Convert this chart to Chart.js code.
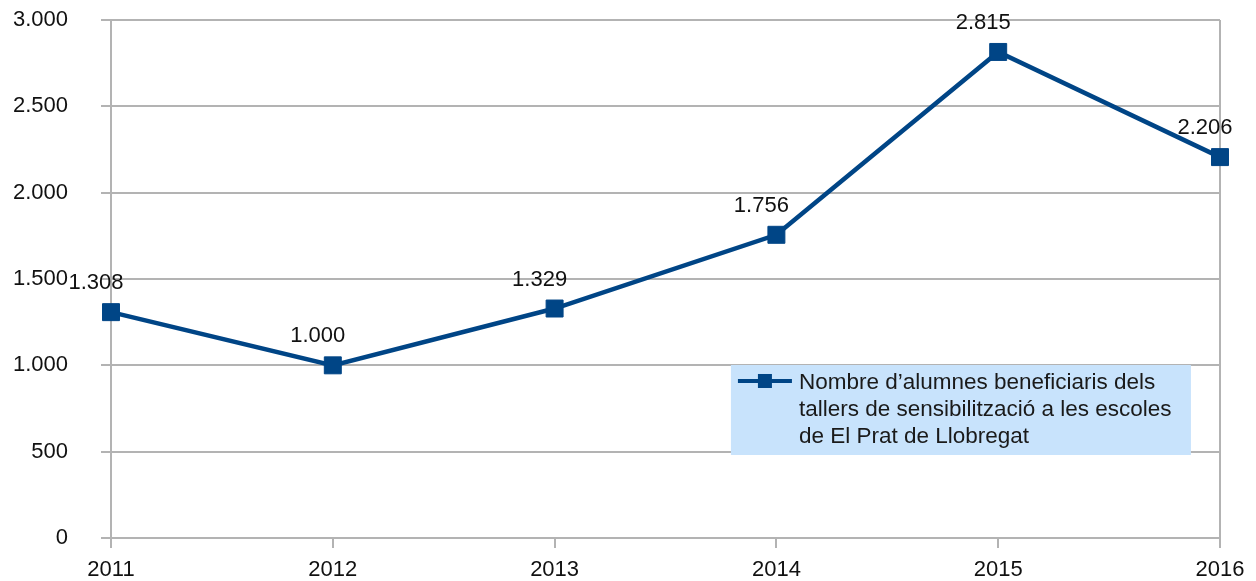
<!DOCTYPE html>
<html>
<head>
<meta charset="utf-8">
<script src="https://cdn.jsdelivr.net/npm/chart.js@4/dist/chart.umd.min.js"></script>
<style>
  html, body { margin: 0; padding: 0; background: #fff; }
  #wrap { width: 1256px; height: 581px; }
</style>
</head>
<body>
<div id="wrap"><canvas id="chart" width="1256" height="581"></canvas></div>
<script>
// Dades del gràfic
const years = ['2011', '2012', '2013', '2014', '2015', '2016'];
const alumnes = [1308, 1000, 1329, 1756, 2815, 2206];
const legendLines = [
  'Nombre d\u2019alumnes beneficiaris dels',
  'tallers de sensibilització a les escoles',
  'de El Prat de Llobregat'
];
const yTicks = [0, 500, 1000, 1500, 2000, 2500, 3000];

const lineColor = '#004586';
const gridColor = '#b3b3b3';
const font = 'Liberation Sans, Arial, sans-serif';

// format 1.308 (separador de milers amb punt)
function fmt(v) {
  return String(v).replace(/\B(?=(\d{3})+(?!\d))/g, '.');
}

// Etiquetes de valor sobre cada punt
const valueLabels = {
  id: 'valueLabels',
  afterDatasetsDraw(chart) {
    const ctx = chart.ctx;
    const meta = chart.getDatasetMeta(0);
    ctx.save();
    ctx.font = '22px ' + font;
    ctx.fillStyle = '#111';
    ctx.textAlign = 'center';
    ctx.textBaseline = 'middle';
    meta.data.forEach((pt, i) => {
      ctx.fillText(fmt(alumnes[i]), pt.x - 15, pt.y - 29);
    });
    ctx.restore();
  }
};

// Llegenda dins l'àrea del gràfic
const boxLegend = {
  id: 'boxLegend',
  afterDraw(chart) {
    const ctx = chart.ctx;
    const a = chart.chartArea;
    const x = a.left + (a.right - a.left) * 0.559;
    const y = a.top + (a.bottom - a.top) * 0.666;
    const w = 460, h = 90;
    ctx.save();
    ctx.fillStyle = '#c8e3fc';
    ctx.fillRect(x, y, w, h);
    // símbol
    ctx.strokeStyle = lineColor;
    ctx.lineWidth = 4;
    ctx.beginPath();
    ctx.moveTo(x + 7, y + 16);
    ctx.lineTo(x + 61, y + 16);
    ctx.stroke();
    ctx.fillStyle = lineColor;
    ctx.fillRect(x + 27, y + 9, 14, 14);
    // text
    ctx.fillStyle = '#1a1a1a';
    ctx.font = '22.5px ' + font;
    ctx.textBaseline = 'middle';
    legendLines.forEach((line, i) => {
      ctx.fillText(line, x + 68, y + 18 + i * 27);
    });
    ctx.restore();
  }
};

new Chart(document.getElementById('chart'), {
  type: 'line',
  data: {
    labels: years,
    datasets: [{
      label: legendLines.join(' '),
      data: alumnes,
      borderColor: lineColor,
      backgroundColor: lineColor,
      borderWidth: 4.5,
      pointStyle: 'rect',
      pointRadius: 12,
      pointBorderWidth: 1,
      pointBorderColor: lineColor,
      pointBackgroundColor: lineColor,
      tension: 0,
      fill: false
    }]
  },
  options: {
    responsive: false,
    animation: false,
    layout: { padding: { top: 20, right: 36, bottom: 0, left: 0 } },
    plugins: {
      legend: { display: false },
      tooltip: { enabled: false }
    },
    scales: {
      x: {
        offset: false,
        afterFit: s => { s.height = 43; s.paddingLeft = 0; s.paddingRight = 0; },
        grid: {
          color: c => (c.index === 0 || c.index === years.length - 1) ? gridColor : 'rgba(0,0,0,0)',
          tickColor: gridColor,
          tickLength: 10,
          lineWidth: 2
        },
        border: { display: false },
        ticks: {
          color: '#111',
          font: { family: font, size: 22 },
          padding: 9,
          maxRotation: 0
        }
      },
      y: {
        min: 0,
        max: 3000,
        afterBuildTicks: s => { s.ticks = yTicks.map(v => ({ value: v })); },
        afterFit: s => { s.width = 111; s.paddingTop = 0; s.paddingBottom = 0; },
        grid: {
          color: gridColor,
          tickColor: gridColor,
          tickLength: 10,
          lineWidth: 2
        },
        border: { display: false },
        ticks: {
          color: '#111',
          font: { family: font, size: 22 },
          padding: 33,
          callback: v => fmt(v)
        }
      }
    }
  },
  plugins: [valueLabels, boxLegend]
});
</script>
</body>
</html>
